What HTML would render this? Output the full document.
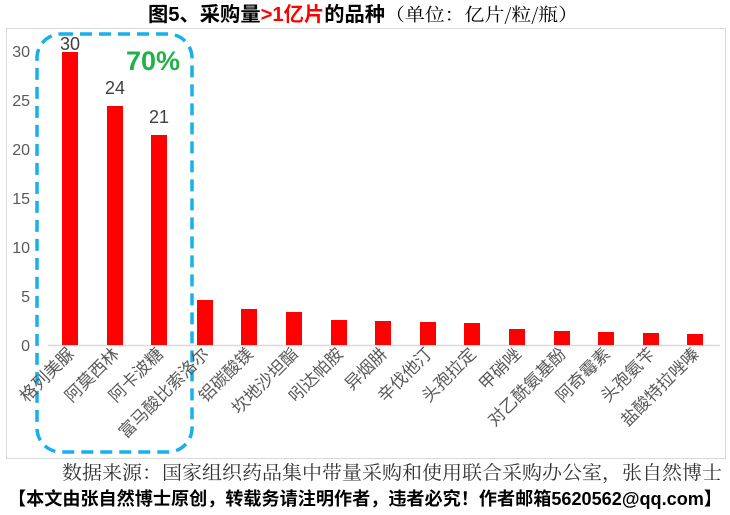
<!DOCTYPE html>
<html><head><meta charset="utf-8"><style>
body{margin:0;background:#fff;}
svg{display:block;font-family:"Liberation Sans","Noto Sans CJK SC",sans-serif;}
</style></head><body>
<svg width="730" height="515" viewBox="0 0 730 515" xmlns="http://www.w3.org/2000/svg">
<rect width="730" height="515" fill="#fff"/>
<text x="148" y="21" font-size="20" font-weight="bold" fill="#000" textLength="237" lengthAdjust="spacingAndGlyphs">图5、采购量<tspan fill="#ff0000">&gt;1亿片</tspan>的品种</text>
<text x="385" y="21" font-weight="normal" font-family="'Noto Serif CJK SC',serif" font-size="18" fill="#000" textLength="193" lengthAdjust="spacingAndGlyphs">（单位：亿片/粒/瓶）</text>
<rect x="6.5" y="28.5" width="719" height="430" fill="none" stroke="#d9d9d9" stroke-width="1"/>
<g font-size="16" fill="#595959" text-anchor="end">
<text x="30" y="351">0</text><text x="30" y="302">5</text><text x="30" y="253">10</text><text x="30" y="204">15</text><text x="30" y="155">20</text><text x="30" y="106">25</text><text x="30" y="57">30</text>
</g>
<line x1="48" y1="345.5" x2="720" y2="345.5" stroke="#d9d9d9" stroke-width="1.5"/>
<g fill="#ff0000">
<rect x="62" y="52" width="16" height="293"/>
<rect x="107" y="106" width="16" height="239"/>
<rect x="151" y="135" width="16" height="210"/>
<rect x="197" y="300" width="16" height="45"/>
<rect x="241" y="309" width="16" height="36"/>
<rect x="286" y="312" width="16" height="33"/>
<rect x="331" y="320" width="16" height="25"/>
<rect x="375" y="321" width="16" height="24"/>
<rect x="420" y="322" width="16" height="23"/>
<rect x="464" y="323" width="16" height="22"/>
<rect x="509" y="329" width="16" height="16"/>
<rect x="554" y="331" width="16" height="14"/>
<rect x="598" y="332" width="16" height="13"/>
<rect x="643" y="333" width="16" height="12"/>
<rect x="687" y="334" width="16" height="11"/>
</g>
<g font-size="18" fill="#404040" text-anchor="middle">
<text x="70" y="50">30</text><text x="115" y="94">24</text><text x="159" y="123">21</text>
</g>
<text x="153" y="70" font-size="27" font-weight="bold" fill="#21b14b" text-anchor="middle">70%</text>
<rect x="37" y="34" width="155" height="418" rx="24" fill="none" stroke="#17b0ea" stroke-width="3.5" stroke-dasharray="12,7"/>
<g font-size="17" fill="#595959" text-anchor="end">
<text transform="translate(75,355) rotate(-45)">格列美脲</text>
<text transform="translate(120,355) rotate(-45)">阿莫西林</text>
<text transform="translate(164,355) rotate(-45)">阿卡波糖</text>
<text transform="translate(210,355) rotate(-45)">富马酸比索洛尔</text>
<text transform="translate(254,355) rotate(-45)">铝碳酸镁</text>
<text transform="translate(299,355) rotate(-45)">坎地沙坦酯</text>
<text transform="translate(344,355) rotate(-45)">吲达帕胺</text>
<text transform="translate(388,355) rotate(-45)">异烟肼</text>
<text transform="translate(433,355) rotate(-45)">辛伐他汀</text>
<text transform="translate(477,355) rotate(-45)">头孢拉定</text>
<text transform="translate(522,355) rotate(-45)">甲硝唑</text>
<text transform="translate(567,355) rotate(-45)">对乙酰氨基酚</text>
<text transform="translate(611,355) rotate(-45)">阿奇霉素</text>
<text transform="translate(656,355) rotate(-45)">头孢氨苄</text>
<text transform="translate(700,355) rotate(-45)">盐酸特拉唑嗪</text>
</g>
<text x="722" y="479" text-anchor="end" font-size="19" fill="#333" font-family="'Noto Serif CJK SC',serif" textLength="660" lengthAdjust="spacingAndGlyphs">数据来源：国家组织药品集中带量采购和使用联合采购办公室，张自然博士</text>
<text x="365" y="505" text-anchor="middle" font-size="18" font-weight="bold" fill="#000" textLength="714" lengthAdjust="spacingAndGlyphs">【本文由张自然博士原创，转载务请注明作者，违者必究！作者邮箱5620562@qq.com】</text>
</svg>
</body></html>
